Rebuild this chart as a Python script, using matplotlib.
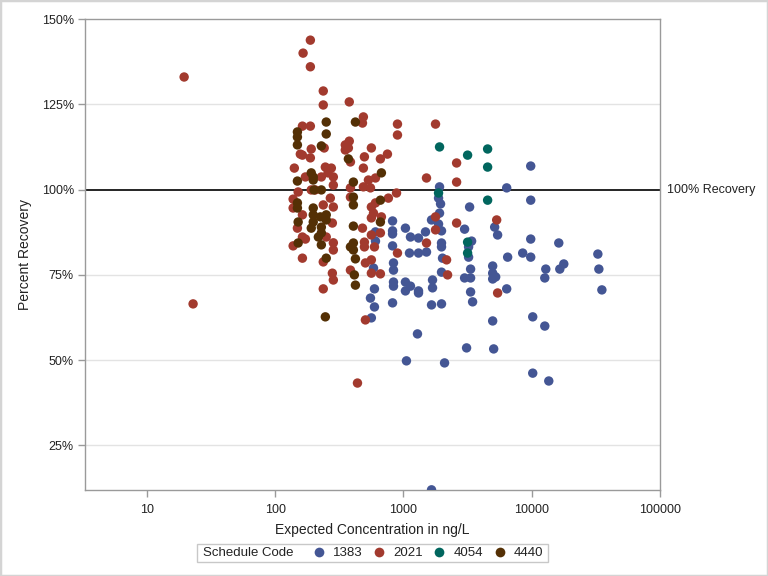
import matplotlib
matplotlib.use('Agg')
import matplotlib.pyplot as plt
from matplotlib.lines import Line2D
from matplotlib.patches import Rectangle
from matplotlib.ticker import FixedLocator, NullLocator, FuncFormatter

plt.rcParams['font.family'] = ['Liberation Sans', 'DejaVu Sans']

# ---------------- data (Expected concentration ng/L, Percent recovery) ----------------
codes = ['1383', '2021', '4054', '4440']
colors = ['#445694', '#A23A2E', '#01665E', '#543005']

s1383 = [(1911, 100.8), (1877, 97.5), (1946, 95.8), (3278, 94.9), (6380, 100.5), (9820, 106.9),
         (9820, 96.9), (1655, 91.1), (1911, 93.1), (1877, 89.9), (1980, 87.9), (2996, 88.4),
         (5140, 89.0), (5420, 86.7), (822, 90.8), (822, 87.9), (822, 87.0), (822, 83.5),
         (1036, 88.7), (1134, 86.1), (1310, 85.8), (1485, 87.6), (1980, 84.35), (1980, 83.2),
         (3398, 84.9), (3219, 83.2), (3219, 80.2), (9820, 85.5), (16250, 84.35), (1114, 81.4),
         (1310, 81.4), (1512, 81.7), (2016, 79.9), (6490, 80.2), (8500, 81.4), (9820, 80.2),
         (32770, 81.1), (836, 78.5), (836, 76.4), (1980, 75.8), (2996, 74.1), (3337, 74.1),
         (3337, 76.7), (4960, 77.6), (4960, 75.5), (5235, 74.4), (4960, 73.8), (12870, 76.7),
         (12640, 74.1), (16550, 76.7), (17780, 78.2), (33370, 76.7), (35230, 70.6), (836, 72.9),
         (836, 71.7), (1036, 72.9), (1134, 71.7), (1036, 70.3), (1310, 70.3), (1310, 69.7),
         (1685, 73.5), (1685, 71.2), (3337, 70.0), (3459, 67.1), (6380, 70.9), (822, 66.8),
         (1655, 66.2), (1980, 66.5), (4960, 61.5), (10180, 62.7), (12640, 60.0), (1286, 57.7),
         (3105, 53.6), (5050, 53.3), (1055, 49.8), (2091, 49.2), (10180, 46.2), (13580, 43.9),
         (1655, 12.0), (605, 84.9), (584, 77.0), (594, 70.9), (553, 68.2), (594, 65.6),
         (562, 62.4), (605, 87.6)]

s2021 = [(19.5, 133.0), (22.9, 66.5), (188, 143.8), (165, 140.0), (188, 136.0), (237, 128.9),
         (237, 124.8), (378, 125.7), (487, 121.3), (479, 119.5), (163, 118.6), (188, 118.6),
         (898, 119.2), (1778, 119.2), (898, 116.0), (378, 114.2), (352, 113.1), (352, 111.6),
         (372, 112.2), (191, 111.9), (241, 112.2), (562, 112.2), (157, 110.4), (163, 110.1),
         (188, 109.3), (386, 108.1), (496, 109.6), (661, 109.0), (750, 110.4), (2596, 107.8),
         (141, 106.3), (246, 106.6), (274, 106.3), (487, 106.3), (258, 104.9), (172, 103.7),
         (229, 103.7), (284, 103.7), (605, 103.4), (533, 102.8), (1512, 103.4), (2596, 102.2),
         (151, 99.3), (191, 99.9), (205, 99.9), (284, 101.3), (386, 100.5), (487, 100.8),
         (553, 100.5), (883, 99.0), (763, 97.5), (138, 97.2), (138, 94.6), (269, 97.5),
         (284, 94.9), (237, 95.5), (386, 97.8), (605, 96.1), (562, 94.9), (163, 92.6),
         (149, 88.7), (279, 90.2), (479, 88.7), (562, 91.7), (584, 93.1), (673, 92.0),
         (1778, 92.0), (1778, 88.2), (2596, 90.2), (138, 83.5), (163, 86.1), (172, 85.5),
         (250, 86.1), (284, 84.4), (284, 82.3), (496, 84.6), (496, 83.2), (562, 86.7),
         (594, 83.2), (661, 87.3), (898, 81.4), (5330, 91.1), (1512, 84.35), (163, 79.9),
         (237, 78.8), (505, 78.5), (562, 79.4), (2168, 79.4), (279, 75.5), (284, 73.5),
         (386, 76.4), (562, 75.5), (661, 75.3), (2208, 75.0), (237, 70.9), (505, 61.8),
         (438, 43.3), (5420, 69.7)]

s4054 = [(1911, 112.5), (3162, 110.1), (4530, 111.9), (4530, 106.6), (4530, 96.9),
         (1877, 99.0), (3162, 84.6), (3162, 81.4)]

s4440 = [(250, 119.8), (422, 119.8), (149, 116.9), (149, 115.4), (250, 116.3), (229, 112.8),
         (149, 113.1), (372, 109.0), (191, 104.9), (198, 103.7), (198, 102.8), (407, 102.2),
         (673, 104.9), (149, 102.5), (229, 99.9), (201, 99.9), (661, 96.9), (149, 96.1),
         (149, 94.6), (407, 97.8), (407, 95.5), (198, 94.6), (198, 92.6), (198, 90.5),
         (225, 92.0), (250, 92.6), (250, 91.1), (151, 90.5), (191, 88.7), (229, 89.0),
         (407, 89.3), (661, 90.5), (151, 84.35), (217, 86.1), (229, 87.3), (229, 83.8),
         (386, 83.2), (407, 84.35), (407, 82.3), (250, 79.9), (422, 79.7), (414, 75.0),
         (422, 72.0), (246, 62.7)]

series = [s1383, s2021, s4054, s4440]

y_ticks = [25, 50, 75, 100, 125, 150]
x_ticks = [10, 100, 1000, 10000, 100000]
ref_value = 100

# ---------------- figure ----------------
W, H = 768, 576
fig = plt.figure(figsize=(W / 100, H / 100), dpi=100)
fig.patches.append(Rectangle((0, 0), 1, 1, transform=fig.transFigure, fill=False,
                             edgecolor='#d4d4d4', lw=2.5, zorder=0))
ax = fig.add_axes([85 / W, 86 / H, 575 / W, 471 / H])

spine_c = '#9a9a9a'
txt_c = '#222222'
for sp in ax.spines.values():
    sp.set_color(spine_c)
    sp.set_linewidth(1)

ax.set_xscale('log')
ax.set_xlim(3.29, 100000)
ax.set_ylim(11.95, 150)

ax.xaxis.set_major_locator(FixedLocator(x_ticks))
ax.xaxis.set_minor_locator(NullLocator())
ax.xaxis.set_major_formatter(FuncFormatter(lambda v, p: f'{int(round(v))}'))
ax.yaxis.set_major_locator(FixedLocator(y_ticks))
ax.yaxis.set_major_formatter(FuncFormatter(lambda v, p: f'{int(round(v))}%'))

for t in y_ticks:
    if t not in (ref_value, 150):
        ax.axhline(t, color='#e3e3e3', lw=1, zorder=0)

ax.tick_params(direction='out', length=5, width=1, color=spine_c, labelsize=9,
               labelcolor=txt_c, pad=3)
ax.tick_params(axis='x', pad=5)

ax.axhline(ref_value, color='black', lw=1.2, zorder=1)
ax.text(1.013, ref_value, f'{ref_value}% Recovery', transform=ax.get_yaxis_transform(),
        ha='left', va='center', fontsize=9, color=txt_c)

for code, col, data in zip(codes, colors, series):
    xs = [d[0] for d in data]
    ys = [d[1] for d in data]
    ax.scatter(xs, ys, s=46, color=col, edgecolors='none', zorder=3, label=code)

ax.set_xlabel('Expected Concentration in ng/L', fontsize=10, color=txt_c, labelpad=5)
ax.set_ylabel('Percent Recovery', fontsize=10, color=txt_c, labelpad=7)

# ---------------- legend (title on the left, entries in a row, framed) ----------------
box_l, box_r, box_t, box_b = 197, 548, 544, 562
fig.patches.append(Rectangle((box_l / W, 1 - box_b / H), (box_r - box_l) / W, (box_b - box_t) / H,
                             transform=fig.transFigure, fill=False, edgecolor='#c8c8c8', lw=1))
fig.text(203 / W, 1 - 553 / H, 'Schedule Code', ha='left', va='center', fontsize=9.5, color=txt_c)

handles = [Line2D([], [], linestyle='none', marker='o', markersize=7,
                  markerfacecolor=c, markeredgecolor='none') for c in colors]
leg = fig.legend(handles, codes, loc='center left', ncol=4,
                 bbox_to_anchor=(313.7 / W, 1 - 553 / H), frameon=False, fontsize=9.5,
                 handlelength=0.8, handletextpad=0.66, columnspacing=0.86,
                 borderpad=0, borderaxespad=0)
for t in leg.get_texts():
    t.set_color(txt_c)

fig.savefig('out.png', dpi=100, facecolor='white')
